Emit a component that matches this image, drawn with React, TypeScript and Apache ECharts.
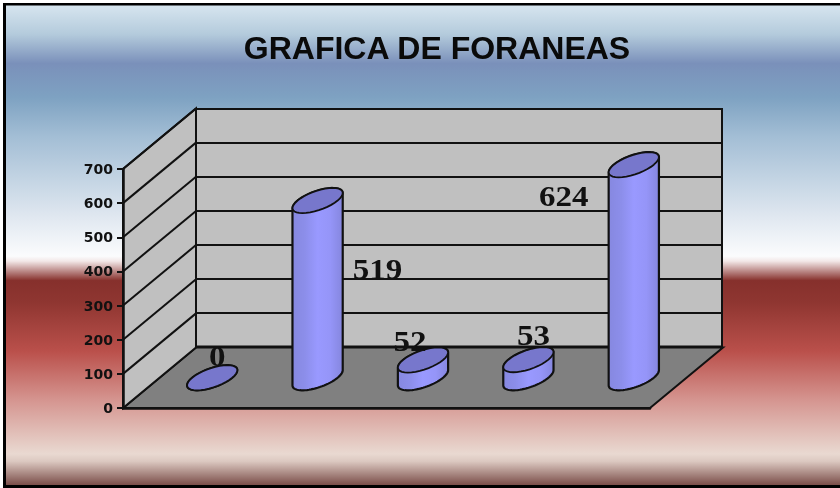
import React, { useEffect, useRef } from "react";
import * as echarts from "echarts";

const categories = ["1", "2", "3", "4", "5"];
const values = [0, 519, 52, 53, 624];
const yTicks = [0, 100, 200, 300, 400, 500, 600, 700];
const titleText = "GRAFICA DE FORANEAS";
const labelOffsets = [[5, -22], [60, 68], [-13, -19], [5, -25], [-70, 31]];

const DEPTH_X = 73;
const DEPTH_Y = -60.5;

const bgStops = [
  [0.008, "#d8e6f0"], [0.07, "#b4cbdc"], [0.13, "#7a90ba"], [0.2, "#7ea2c2"], [0.28, "#a3bed5"],
  [0.45, "#e2e9f1"], [0.525, "#fbfcfd"], [0.535, "#f3e8e8"], [0.575, "#86302c"], [0.62, "#8f3631"],
  [0.72, "#ba504b"], [0.82, "#d59590"], [0.93, "#e9d9d1"], [0.945, "#dcc9c1"], [1, "#6e3e3a"],
].map(([offset, color]) => ({ offset: offset as number, color: color as string }));

function ellipsePoints(cx: number, cy: number, ax: number, bx: number, by: number, from: number, to: number) {
  const pts: number[][] = [];
  const n = 36;
  for (let i = 0; i <= n; i++) {
    const t = from + ((to - from) * i) / n;
    pts.push([cx + ax * Math.cos(t) + bx * Math.sin(t), cy + by * Math.sin(t)]);
  }
  return pts;
}

export default function App() {
  const ref = useRef<HTMLDivElement>(null);
  useEffect(() => {
    document.body.style.margin = "0";
    const chart = echarts.init(ref.current!, undefined, { renderer: "svg" });
    const bodyFill = new echarts.graphic.LinearGradient(0, 0, 1, 0, [
      { offset: 0, color: "#8688e0" },
      { offset: 0.25, color: "#8c8eea" },
      { offset: 0.5, color: "#9999ff" },
      { offset: 0.75, color: "#9595f8" },
      { offset: 1, color: "#8586de" },
    ]);
    chart.setOption({
      animation: false,
      backgroundColor: new echarts.graphic.LinearGradient(0, 0, 0, 1, bgStops),
      title: {
        text: titleText,
        left: 432,
        top: 27,
        textAlign: "center",
        textStyle: { fontFamily: "Liberation Sans", fontWeight: "bold", fontSize: 32, color: "#0a0a0a" },
      },
      grid: [
        { left: 123, top: 169, width: 527, height: 239 },
        { left: 196, top: 109, width: 526, height: 237.5, show: true, backgroundColor: "#c0c0c0", borderColor: "#111", borderWidth: 2 },
      ],
      xAxis: [
        { type: "category", gridIndex: 0, data: categories, axisLabel: { show: false }, axisTick: { show: false }, axisLine: { show: true, lineStyle: { color: "#111", width: 2.5 } }, z: 5 },
        { type: "category", gridIndex: 1, data: categories, show: false },
      ],
      yAxis: [
        {
          type: "value", gridIndex: 0, min: 0, max: 700, interval: 100, z: 5,
          axisLine: { show: true, lineStyle: { color: "#111", width: 2.5 } },
          axisTick: { show: true, length: 6, lineStyle: { color: "#111", width: 2 } },
          splitLine: { show: false },
          axisLabel: { margin: 10, fontFamily: "DejaVu Sans", fontWeight: "bold", fontSize: 14, color: "#111" },
        },
        {
          type: "value", gridIndex: 1, min: 0, max: 700, interval: 100,
          axisLine: { show: false }, axisTick: { show: false }, axisLabel: { show: false },
          splitLine: { show: true, lineStyle: { color: "#111", width: 2 } },
        },
      ],
      series: [
        {
          type: "custom", name: "walls", xAxisIndex: 0, yAxisIndex: 0, z: 2,
          coordinateSystem: "cartesian2d",
          data: yTicks.map((t) => [0, t]),
          encode: { y: 1 },
          silent: true,
          renderItem: (params: any, api: any) => {
            const cs = params.coordSys;
            const y = api.coord([0, api.value(1)])[1];
            const x0 = cs.x;
            const children: any[] = [];
            if (params.dataIndex === 0) {
              const x1 = cs.x + cs.width;
              children.push({
                type: "polygon",
                shape: { points: [[x0, y], [x1, y], [x1 + DEPTH_X, y + DEPTH_Y], [x0 + DEPTH_X, y + DEPTH_Y]] },
                style: { fill: "#808080", stroke: "#111", lineWidth: 2 },
              });
              children.push({
                type: "polygon",
                shape: { points: [[x0, y], [x0, cs.y], [x0 + DEPTH_X, cs.y + DEPTH_Y], [x0 + DEPTH_X, y + DEPTH_Y]] },
                style: { fill: "#c0c0c0", stroke: "#111", lineWidth: 2 },
              });
            } else {
              children.push({
                type: "line",
                shape: { x1: x0, y1: y, x2: x0 + DEPTH_X, y2: y + DEPTH_Y },
                style: { stroke: "#111", lineWidth: 2 },
              });
            }
            return { type: "group", children };
          },
        },
        {
          type: "custom", name: "FORANEAS", xAxisIndex: 0, yAxisIndex: 0, z: 3,
          coordinateSystem: "cartesian2d",
          data: values.map((v, i) => [i, v]),
          encode: { x: 0, y: 1 },
          renderItem: (params: any, api: any) => {
            const i = params.dataIndex;
            const v = api.value(1);
            const base = api.coord([i, 0]);
            const top = api.coord([i, v]);
            const band = api.size([1, 0])[0];
            const ax = band * 0.19;
            const bx = DEPTH_X * 0.208;
            const by = DEPTH_Y * 0.208;
            const cx = base[0] + DEPTH_X / 2;
            const cyB = base[1] + DEPTH_Y / 2;
            const cyT = top[1] + DEPTH_Y / 2;
            const t0 = Math.atan2(bx, ax);
            const pts = [
              ...ellipsePoints(cx, cyB, ax, bx, by, t0, t0 - Math.PI),
              ...ellipsePoints(cx, cyT, ax, bx, by, t0 - Math.PI, t0 - 2 * Math.PI),
            ];
            const cap = ellipsePoints(cx, cyT, ax, bx, by, 0, 2 * Math.PI);
            const off = labelOffsets[i];
            return {
              type: "group",
              children: [
                { type: "polygon", shape: { points: pts }, style: { fill: bodyFill, stroke: "#111", lineWidth: 2.2 } },
                { type: "polygon", shape: { points: cap }, style: { fill: "#7777cc", stroke: "#111", lineWidth: 1.8 } },
                {
                  type: "text",
                  x: cx + off[0],
                  y: cyT + off[1],
                  scaleX: 1.1,
                  style: {
                    text: String(v), fill: "#111", align: "center", verticalAlign: "middle",
                    font: "bold 30px 'Liberation Serif'",
                  },
                },
              ],
            };
          },
        },
      ],
      graphic: [
        { type: "rect", shape: { x: 0, y: 0, width: 840, height: 3 }, style: { fill: "#fff" }, z: 10 },
        { type: "rect", shape: { x: 0, y: 0, width: 3, height: 488 }, style: { fill: "#fff" }, z: 10 },
        { type: "rect", shape: { x: 3, y: 3, width: 837, height: 2.5 }, style: { fill: "#000" }, z: 11 },
        { type: "rect", shape: { x: 3, y: 3, width: 3, height: 485 }, style: { fill: "#000" }, z: 11 },
        { type: "rect", shape: { x: 3, y: 485, width: 837, height: 3 }, style: { fill: "#000" }, z: 11 },
      ],
    });
    return () => chart.dispose();
  }, []);
  return <div ref={ref} style={{ width: 840, height: 488, filter: "blur(0.6px)" }} />;
}
